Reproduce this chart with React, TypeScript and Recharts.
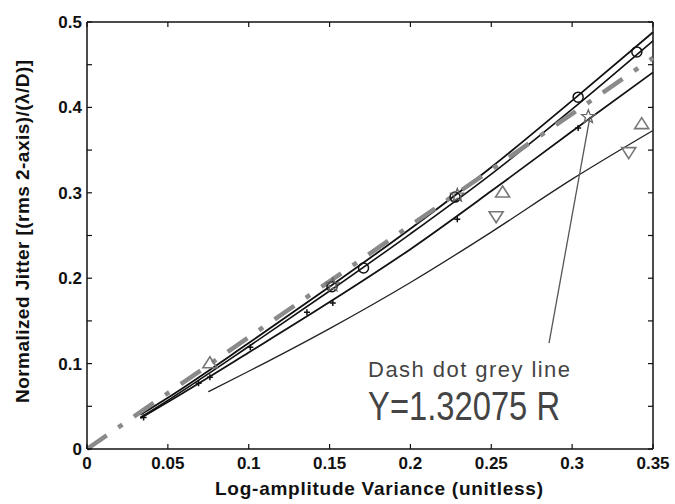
import {
  CartesianGrid,
  ComposedChart,
  Line,
  ReferenceDot,
  ReferenceLine,
  Scatter,
  XAxis,
  YAxis,
} from "recharts";

const xTicks = [0, 0.05, 0.1, 0.15, 0.2, 0.25, 0.3, 0.35];
const xTickLabels = ["0", "0.05", "0.1", "0.15", "0.2", "0.25", "0.3", "0.35"];
const yTicks = [0, 0.05, 0.1, 0.15, 0.2, 0.25, 0.3, 0.35, 0.4, 0.45, 0.5];
const yTickLabels = ["0", "", "0.1", "", "0.2", "", "0.3", "", "0.4", "", "0.5"];
const xMax = 0.35;
const yMax = 0.5;

// fitted curves (black)
const fitX = [0.033, 0.05, 0.1, 0.15, 0.2, 0.25, 0.3, 0.35];
const fitTop = [0.04, 0.06, 0.124, 0.19, 0.258, 0.33, 0.408, 0.488];
const fitSecond = [0.037, 0.057, 0.12, 0.185, 0.252, 0.322, 0.398, 0.478];
const fitThird = [0.036, 0.055, 0.113, 0.172, 0.234, 0.302, 0.372, 0.441];
const lowX = [0.075, 0.1, 0.15, 0.2, 0.25, 0.3, 0.35];
const fitLow = [0.067, 0.091, 0.141, 0.195, 0.254, 0.316, 0.373];

// grey dash-dot line, Y = 1.32075 R
const greyX = [0, 0.35];
const greyY = [0, 0.458];

// measured points
const circleX = [0.1515, 0.171, 0.2276, 0.3037, 0.34];
const circleY = [0.19, 0.212, 0.295, 0.412, 0.465];
const triUpX = [0.076, 0.257, 0.343];
const triUpY = [0.101, 0.301, 0.381];
const triDownX = [0.253, 0.335];
const triDownY = [0.272, 0.347];
const plusX = [0.035, 0.069, 0.076, 0.101, 0.136, 0.152, 0.229, 0.3037];
const plusY = [0.037, 0.077, 0.084, 0.119, 0.16, 0.171, 0.269, 0.376];
const starX = [0.152, 0.229, 0.31];
const starY = [0.192, 0.297, 0.389];

// annotation
const noteText = ["Dash dot grey line", "Y=1.32075 R"];
const noteAt = { x: 0.1738, y: 0.0843 };
const arrowX = [0.311, 0.2857];
const arrowY = [0.389, 0.124];

const zip = (xs: number[], ys: number[]) => xs.map((x, i) => ({ x, y: ys[i] }));

const FONT = "'Liberation Sans', Arial, Helvetica, sans-serif";
const INK = "#111";

const circleShape = (p: any) => (
  <circle cx={p.cx} cy={p.cy} r={5} fill="none" stroke={INK} strokeWidth={1.5} />
);
const triUpShape = (p: any) => (
  <path
    d={`M${p.cx},${p.cy - 6}L${p.cx + 7},${p.cy + 5}L${p.cx - 7},${p.cy + 5}Z`}
    fill="none"
    stroke="#777"
    strokeWidth={1.6}
  />
);
const triDownShape = (p: any) => (
  <path
    d={`M${p.cx},${p.cy + 6}L${p.cx + 7},${p.cy - 5}L${p.cx - 7},${p.cy - 5}Z`}
    fill="none"
    stroke="#777"
    strokeWidth={1.6}
  />
);
const plusShape = (p: any) => (
  <path
    d={`M${p.cx - 3},${p.cy}h6M${p.cx},${p.cy - 3}v6`}
    stroke={INK}
    strokeWidth={1.5}
  />
);
const starShape = (p: any) => {
  const pts: string[] = [];
  for (let k = 0; k < 10; k++) {
    const r = k % 2 === 0 ? 7 : 3;
    const a = -Math.PI / 2 + (k * Math.PI) / 5;
    pts.push(`${p.cx + r * Math.cos(a)},${p.cy + r * Math.sin(a)}`);
  }
  return <polygon points={pts.join(" ")} fill="none" stroke="#666" strokeWidth={1.3} />;
};

// grid renderers: short inward ticks on the top and right sides of the box
const topTickLine = (p: any) => {
  const y = Math.min(p.y1, p.y2);
  return (
    <line key={p.key} x1={p.x1} x2={p.x1} y1={y} y2={y + 5} stroke={INK} strokeWidth={1.2} />
  );
};
const rightTickLine = (p: any) => {
  const x = Math.max(p.x1, p.x2);
  return (
    <line key={p.key} x1={x} x2={x - 5} y1={p.y1} y2={p.y1} stroke={INK} strokeWidth={1.2} />
  );
};

function XTitle({ viewBox }: any) {
  return (
    <text
      x={viewBox.x + viewBox.width / 2 + 9}
      y={viewBox.y + 46}
      textAnchor="middle"
      fontFamily={FONT}
      fontWeight="bold"
      fontSize={19}
      textLength={328}
      fill={INK}
    >
      Log-amplitude Variance (unitless)
    </text>
  );
}

function YTitle({ viewBox }: any) {
  const cx = viewBox.x + 2;
  const cy = viewBox.y + viewBox.height / 2 - 4;
  return (
    <text
      transform={`translate(${cx},${cy}) rotate(-90)`}
      textAnchor="middle"
      fontFamily={FONT}
      fontWeight="bold"
      fontSize={19}
      textLength={343}
      fill={INK}
    >
      Normalized Jitter [(rms 2-axis)/(λ/D)]
    </text>
  );
}

function Note({ viewBox }: any) {
  return (
    <g fontFamily={FONT} fill="#444">
      <text x={viewBox.x} y={viewBox.y} fontSize={22} textLength={202} lengthAdjust="spacing">
        {noteText[0]}
      </text>
      <text
        x={viewBox.x}
        y={viewBox.y + 43}
        fontSize={40}
        textLength={192}
        lengthAdjust="spacingAndGlyphs"
      >
        {noteText[1]}
      </text>
    </g>
  );
}

const tickStyle = { fill: INK, fontSize: 17, fontWeight: "bold", fontFamily: FONT };
const frame = { stroke: INK, strokeWidth: 1.5 };
const tickLn = { stroke: INK, strokeWidth: 1.2 };

export default function App() {
  return (
    <div style={{ width: 675, height: 504, background: "#fff" }}>
      <style>{"body{margin:0}"}</style>
      <ComposedChart
        width={675}
        height={504}
        margin={{ top: 22, right: 22, left: 27, bottom: 0 }}
      >
        {/* top and right edges of the box */}
        <CartesianGrid
          horizontalValues={[yMax]}
          verticalValues={[xMax]}
          stroke={INK}
          strokeWidth={1.5}
        />
        {/* inward ticks along the top and right edges */}
        <CartesianGrid
          horizontalValues={yTicks}
          verticalValues={xTicks}
          horizontal={rightTickLine}
          vertical={topTickLine}
          stroke={INK}
        />

        <XAxis
          dataKey="x"
          type="number"
          domain={[0, xMax]}
          ticks={xTicks}
          interval={0}
          tickFormatter={(v: number) => xTickLabels[xTicks.indexOf(v)] ?? ""}
          tick={tickStyle}
          tickSize={-5}
          tickMargin={13}
          height={55}
          axisLine={frame}
          tickLine={tickLn}
          label={<XTitle />}
        />
        <YAxis
          type="number"
          domain={[0, yMax]}
          ticks={yTicks}
          interval={0}
          tickFormatter={(v: number) => yTickLabels[yTicks.indexOf(v)] ?? ""}
          tick={tickStyle}
          tickSize={-5}
          tickMargin={10}
          width={60}
          axisLine={frame}
          tickLine={tickLn}
          label={<YTitle />}
        />

        <Line data={zip(fitX, fitTop)} dataKey="y" type="monotone" stroke={INK} strokeWidth={1.8} dot={false} isAnimationActive={false} />
        <Line data={zip(fitX, fitSecond)} dataKey="y" type="monotone" stroke={INK} strokeWidth={1.6} dot={false} isAnimationActive={false} />
        <Line data={zip(fitX, fitThird)} dataKey="y" type="monotone" stroke={INK} strokeWidth={1.8} dot={false} isAnimationActive={false} />
        <Line data={zip(lowX, fitLow)} dataKey="y" type="monotone" stroke="#222" strokeWidth={1.3} dot={false} isAnimationActive={false} />
        <Line
          data={zip(greyX, greyY)}
          dataKey="y"
          type="linear"
          stroke="#8a8a8a"
          strokeWidth={4.5}
          strokeDasharray="24 14 5 14"
          dot={false}
          isAnimationActive={false}
        />

        <Scatter data={zip(circleX, circleY)} dataKey="y" shape={circleShape} isAnimationActive={false} />
        <Scatter data={zip(triUpX, triUpY)} dataKey="y" shape={triUpShape} isAnimationActive={false} />
        <Scatter data={zip(triDownX, triDownY)} dataKey="y" shape={triDownShape} isAnimationActive={false} />
        <Scatter data={zip(plusX, plusY)} dataKey="y" shape={plusShape} isAnimationActive={false} />
        <Scatter data={zip(starX, starY)} dataKey="y" shape={starShape} isAnimationActive={false} />

        <ReferenceLine
          segment={[
            { x: arrowX[0], y: arrowY[0] },
            { x: arrowX[1], y: arrowY[1] },
          ]}
          stroke="#555"
          strokeWidth={1.3}
        />
        <ReferenceDot x={noteAt.x} y={noteAt.y} r={0} stroke="none" label={<Note />} />
      </ComposedChart>
    </div>
  );
}
